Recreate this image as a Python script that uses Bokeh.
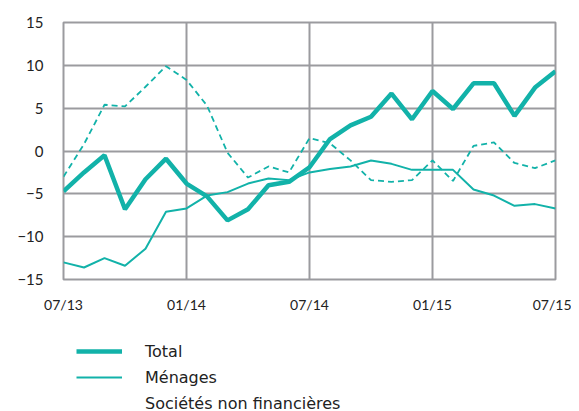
from bokeh.plotting import figure
from bokeh.layouts import column
from bokeh.models import FixedTicker, Legend, LegendItem, Range1d, ColumnDataSource
from bokeh.embed import file_html
from bokeh.resources import INLINE

months = ["07/13", "08/13", "09/13", "10/13", "11/13", "12/13",
          "01/14", "02/14", "03/14", "04/14", "05/14", "06/14",
          "07/14", "08/14", "09/14", "10/14", "11/14", "12/14",
          "01/15", "02/15", "03/15", "04/15", "05/15", "06/15", "07/15"]
total = [-4.7, -2.5, -0.5, -6.8, -3.3, -0.9, -3.8, -5.3, -8.1, -6.8, -4.0, -3.6,
         -1.9, 1.4, 3.0, 4.0, 6.7, 3.7, 7.0, 4.9, 7.9, 7.9, 4.1, 7.4, 9.3]
menages = [-13.0, -13.6, -12.5, -13.4, -11.4, -7.1, -6.7, -5.2, -4.8, -3.8, -3.2, -3.4,
           -2.5, -2.1, -1.8, -1.1, -1.5, -2.2, -2.2, -2.2, -4.5, -5.2, -6.4, -6.2, -6.7]
snf = [-3.0, 0.8, 5.4, 5.2, 7.5, 9.9, 8.3, 5.3, -0.2, -3.1, -1.8, -2.5,
       1.5, 0.9, -1.1, -3.4, -3.6, -3.4, -1.1, -3.5, 0.6, 1.0, -1.4, -2.0, -1.1]
series_names = ["Total", "Ménages", "Sociétés non financières"]
x_ticks = [0, 6, 12, 18, 24]
y_ticks = [-15, -10, -5, 0, 5, 10, 15]

x = list(range(len(months)))
src = ColumnDataSource(dict(x=x, total=total, menages=menages, snf=snf))

teal = "#12b2a9"
grid = "#9b9b9f"

p = figure(width=571, height=315, output_backend="svg", toolbar_location=None,
           x_range=Range1d(0, 24), y_range=Range1d(-15, 15),
           min_border_left=63, min_border_right=16, min_border_top=22, min_border_bottom=35)

p.outline_line_color = grid
p.outline_line_width = 2
p.background_fill_color = "white"

p.xaxis.ticker = FixedTicker(ticks=x_ticks)
p.xaxis.major_label_overrides = {i: months[i] for i in x_ticks}
p.yaxis.ticker = FixedTicker(ticks=y_ticks)
for ax in (p.xaxis[0], p.yaxis[0]):
    ax.axis_line_color = None
    ax.major_tick_line_color = None
    ax.minor_tick_line_color = None
    ax.major_label_text_font = "Lato"
    ax.major_label_text_color = "#222222"
p.xaxis.major_label_text_font_size = "14px"
p.yaxis.major_label_text_font_size = "15px"
p.xaxis.major_label_standoff = 10
p.yaxis.major_label_standoff = 14

p.xgrid.ticker = FixedTicker(ticks=[6, 12, 18])
p.ygrid.ticker = FixedTicker(ticks=[-10, -5, 0, 5, 10])
for g in (p.xgrid[0], p.ygrid[0]):
    g.grid_line_color = grid
    g.grid_line_width = 2

p.line("x", "snf", source=src, line_color=teal, line_width=1.8, line_dash="6 4")
p.line("x", "menages", source=src, line_color=teal, line_width=2)
p.line("x", "total", source=src, line_color=teal, line_width=4.5)

# legend panel (separate figure under the chart); its sample lines lie outside its ranges
lg = figure(width=571, height=96, output_backend="svg", toolbar_location=None,
            x_range=Range1d(0, 1), y_range=Range1d(0, 1),
            x_axis_type=None, y_axis_type=None,
            min_border_left=63, min_border_right=16, min_border_top=0, min_border_bottom=0)
lg.outline_line_color = None
lg.xgrid.visible = False
lg.ygrid.visible = False
off = [-5, -4]
l_tot = lg.line(x=off, y=off, line_color=teal, line_width=4.5)
l_men = lg.line(x=off, y=off, line_color=teal, line_width=2)
l_snf = lg.line(x=off, y=off, line_alpha=0)

legend = Legend(items=[
    LegendItem(label=series_names[0], renderers=[l_tot]),
    LegendItem(label=series_names[1], renderers=[l_men]),
    LegendItem(label=series_names[2], renderers=[l_snf]),
], location=(13, -2))
legend.border_line_color = None
legend.background_fill_alpha = 0
legend.padding = 0
legend.margin = 0
legend.spacing = 6
legend.glyph_width = 46
legend.glyph_height = 20
legend.label_height = 20
legend.label_standoff = 23
legend.label_text_font = "DejaVu Sans"
legend.label_text_font_size = "16px"
legend.label_text_color = "#222222"
lg.add_layout(legend, "center")

open("out.html", "w").write(file_html(column(p, lg, spacing=0), INLINE))
